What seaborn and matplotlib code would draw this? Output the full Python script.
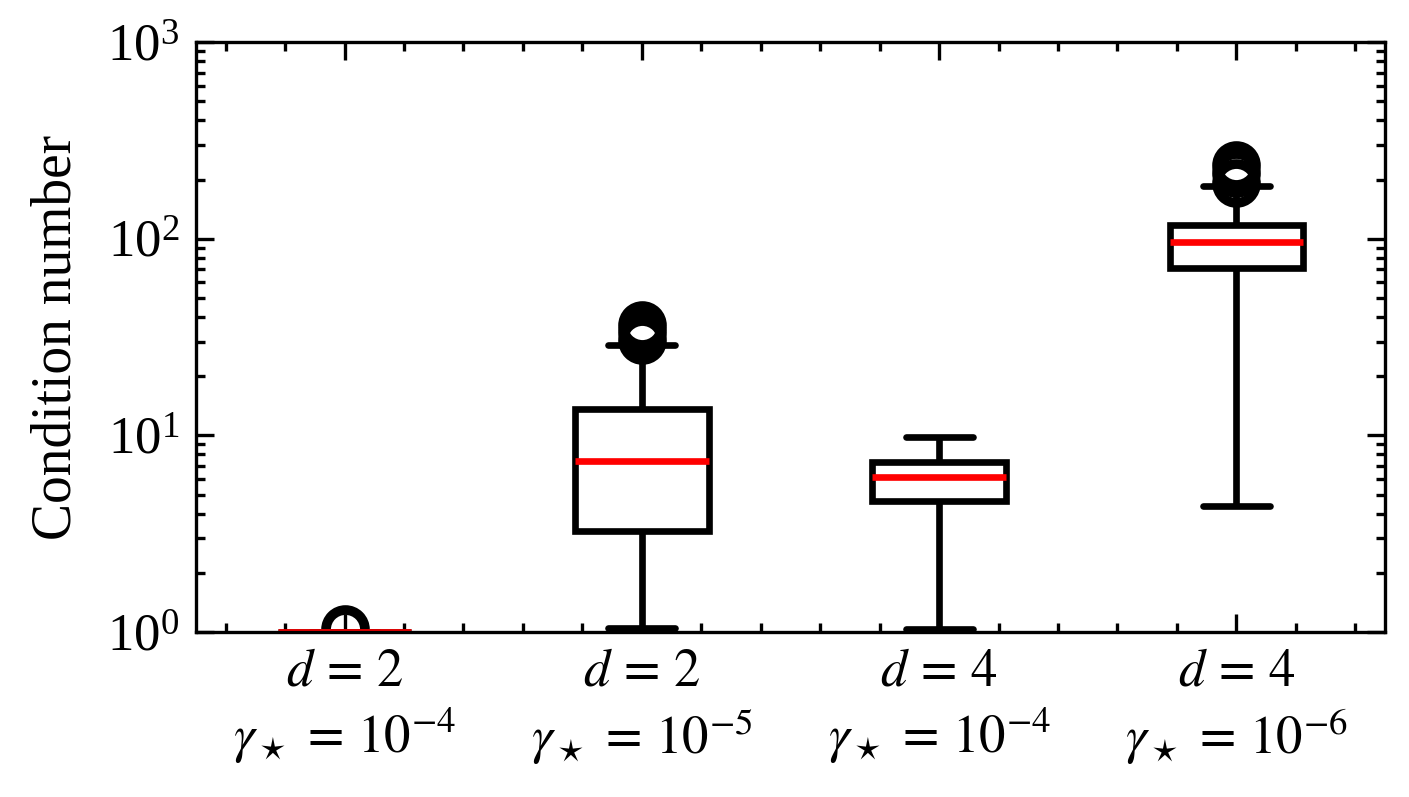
import matplotlib
matplotlib.use("Agg")
import matplotlib.pyplot as plt
import pandas as pd
import seaborn as sns
from matplotlib.ticker import MultipleLocator

# Valores (cada lista gera os quartis/whiskers/outliers)
rotulos = [
    "$d\\,=\\,2$\n$\\gamma_\\star\\,=\\,10^{-4}$",
    "$d\\,=\\,2$\n$\\gamma_\\star\\,=\\,10^{-5}$",
    "$d\\,=\\,4$\n$\\gamma_\\star\\,=\\,10^{-4}$",
    "$d\\,=\\,4$\n$\\gamma_\\star\\,=\\,10^{-6}$",
]
grupo_1 = [1.0, 1.0, 1.001, 1.002, 1.003, 1.004, 1.005, 1.006, 1.03]
grupo_2 = [1.05, 1.5, 2.2, 2.8, 3.25, 4.2, 5.3, 6.4, 7.45, 8.6, 10.2, 12.0,
           13.7, 28.8, 30.5, 33.5, 36.5]
grupo_3 = [1.04, 3.0, 4.62, 5.5, 6.15, 6.8, 7.32, 8.5, 9.85]
grupo_4 = [4.4, 20.0, 40.0, 60.0, 71.0, 78.0, 84.0, 90.0, 96.0, 101.0, 106.0,
           111.0, 117.0, 185.0, 192.0, 215.0, 238.0]

grupos = [grupo_1, grupo_2, grupo_3, grupo_4]
df = pd.DataFrame({
    "caso": [r for r, g in zip(rotulos, grupos) for _ in g],
    "valor": [v for g in grupos for v in g],
})

sns.set_style("ticks")
plt.rcParams["font.family"] = ["Liberation Serif", "DejaVu Serif"]
plt.rcParams["mathtext.fontset"] = "stix"
plt.rcParams["text.color"] = "black"
plt.rcParams["axes.labelcolor"] = "black"
plt.rcParams["xtick.color"] = "black"
plt.rcParams["ytick.color"] = "black"
plt.rcParams["axes.edgecolor"] = "black"

fig = plt.figure(figsize=(14.09, 7.97), dpi=100)
ax = fig.add_axes([0.139, 0.207, 0.844, 0.740])

lw = 4.8
sns.boxplot(
    data=df, x="caso", y="valor", order=rotulos, ax=ax,
    color="white", linecolor="black", linewidth=lw, width=0.45,
    fliersize=28,
    medianprops=dict(color="red", linewidth=lw),
    flierprops=dict(marker="o", markersize=28, markeredgewidth=7,
                    markerfacecolor="none", markeredgecolor="black"),
)

ax.set_yscale("log")
ax.set_ylim(1, 1000)
ax.set_xlim(-0.5, 3.5)
ax.xaxis.set_minor_locator(MultipleLocator(0.2))

ax.set_xlabel("")
ax.set_ylabel("Condition number", fontsize=40, labelpad=18)
for s in ax.spines.values():
    s.set_linewidth(2.4)
    s.set_visible(True)
ax.tick_params(which="both", direction="in", top=True, right=True,
               width=2.4, labelsize=38)
ax.tick_params(which="major", length=13, pad=12)
ax.tick_params(which="minor", length=6.5)

fig.savefig("out.png", dpi=100)
plt.close(fig)
